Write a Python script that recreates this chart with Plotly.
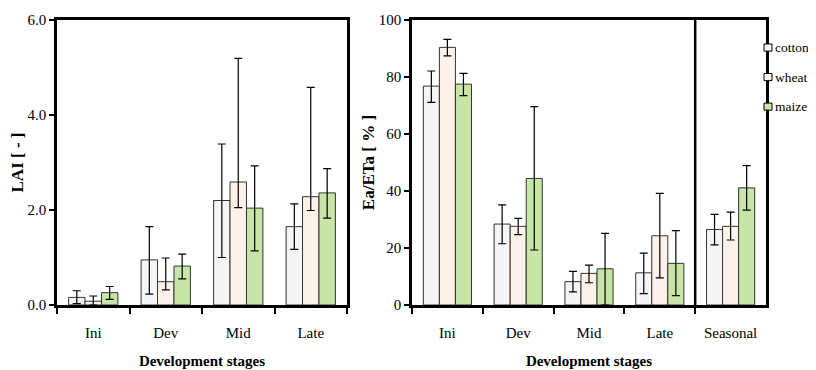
import plotly.graph_objects as go

stages_lai = ["Ini", "Dev", "Mid", "Late"]
stages_e = ["Ini", "Dev", "Mid", "Late", "Seasonal"]
crops = ["cotton", "wheat", "maize"]
colors = ["#f5f5f5", "#fdf2e9", "#c6e5a6"]

# LAI values, upper and lower error bar ends
lai = {
    "cotton": [0.16, 0.95, 2.20, 1.65],
    "wheat": [0.08, 0.49, 2.59, 2.28],
    "maize": [0.26, 0.82, 2.04, 2.36],
}
lai_hi = {
    "cotton": [0.30, 1.65, 3.39, 2.13],
    "wheat": [0.19, 0.99, 5.19, 4.58],
    "maize": [0.39, 1.07, 2.93, 2.87],
}
lai_lo = {
    "cotton": [0.03, 0.23, 1.00, 1.17],
    "wheat": [0.00, 0.32, 2.05, 1.99],
    "maize": [0.12, 0.55, 1.14, 1.83],
}

# Ea/ETa values (%)
ea = {
    "cotton": [76.8, 28.4, 8.2, 11.3, 26.5],
    "wheat": [90.4, 27.6, 11.1, 24.3, 27.6],
    "maize": [77.5, 44.4, 12.7, 14.6, 41.1],
}
ea_hi = {
    "cotton": [82.1, 35.1, 11.8, 18.2, 31.8],
    "wheat": [93.2, 30.4, 14.0, 39.2, 32.6],
    "maize": [81.3, 69.6, 25.1, 26.1, 48.9],
}
ea_lo = {
    "cotton": [71.1, 21.5, 4.6, 4.0, 21.1],
    "wheat": [87.4, 24.7, 7.8, 9.5, 22.8],
    "maize": [73.5, 19.3, 0.0, 3.3, 33.3],
}

FONT = "Liberation Serif"
W, H = 808, 362  # page body has an 8px margin

fig = go.Figure()


def err(vals, hi, lo):
    return dict(
        type="data", symmetric=False,
        array=[h - v for v, h in zip(vals, hi)],
        arrayminus=[v - l for v, l in zip(vals, lo)],
        color="black", thickness=1.2, width=4,
    )


for c, col in zip(crops, colors):
    fig.add_trace(go.Bar(
        x=stages_lai, y=lai[c], name=c, marker=dict(color=col, line=dict(color="#333333", width=1)),
        error_y=err(lai[c], lai_hi[c], lai_lo[c]), xaxis="x", yaxis="y", showlegend=False,
    ))
for c, col in zip(crops, colors):
    fig.add_trace(go.Bar(
        x=stages_e, y=ea[c], name=c, marker=dict(color=col, line=dict(color="#333333", width=1)),
        error_y=err(ea[c], ea_hi[c], ea_lo[c]), xaxis="x2", yaxis="y2", showlegend=False,
    ))

axis_common = dict(
    showline=True, linecolor="black", linewidth=2.5, mirror=True,
    showgrid=False, zeroline=False,
    tickfont=dict(family=FONT, size=15, color="black"),
)

xt = dict(text="<b>Development stages</b>", font=dict(family=FONT, size=15, color="black"), standoff=16)

fig.update_layout(
    width=W, height=H,
    margin=dict(l=0, r=0, t=12, b=65),
    paper_bgcolor="white", plot_bgcolor="white",
    barmode="group", bargap=0.32, bargroupgap=0,
    font=dict(family=FONT, color="black"),
    showlegend=False,
    xaxis=dict(
        domain=[49 / W, 339 / W], anchor="y",
        ticks="outside", tickson="boundaries", ticklen=6, tickwidth=2, tickcolor="black",
        ticklabelstandoff=12, title=xt, **axis_common,
    ),
    yaxis=dict(
        domain=[0, 1], anchor="x", range=[0, 6], tickvals=[0, 2, 4, 6], tickformat=".1f",
        ticks="outside", ticklen=5, tickwidth=2, tickcolor="black",
        title=dict(text="<b>LAI [ - ]</b>", font=dict(family=FONT, size=17, color="black"), standoff=1),
        **axis_common,
    ),
    xaxis2=dict(
        domain=[404 / W, 758 / W], anchor="y2",
        ticks="outside", tickson="boundaries", ticklen=6, tickwidth=2, tickcolor="black",
        ticklabelstandoff=12, title=xt, **axis_common,
    ),
    yaxis2=dict(
        domain=[0, 1], anchor="x2", range=[0, 100], dtick=20,
        ticks="outside", ticklen=5, tickwidth=2, tickcolor="black",
        title=dict(text="<b>Ea/ETa [ % ]</b>", font=dict(family=FONT, size=17, color="black"), standoff=0),
        **axis_common,
    ),
)

# separator between stages and seasonal
fig.add_shape(type="line", xref="x2", yref="y2 domain", x0=3.5, x1=3.5, y0=0, y1=1,
              line=dict(color="black", width=2.5))

# legend (square swatch + label)
for i, (c, col) in enumerate(zip(crops, colors)):
    yc = 35 + 37.5 * i
    fig.add_shape(type="rect", xref="paper", yref="paper",
                  x0=756 / W, x1=764 / W, y0=1 - (yc - 4.5) / H, y1=1 - (yc + 4.5) / H,
                  fillcolor=col, line=dict(color="black", width=1))
    fig.add_annotation(x=765 / W, y=1 - yc / H, xref="paper", yref="paper",
                       text=c, showarrow=False, xanchor="left", yanchor="middle",
                       font=dict(family=FONT, size=13.5, color="black"))

fig.write_html("out.html")
